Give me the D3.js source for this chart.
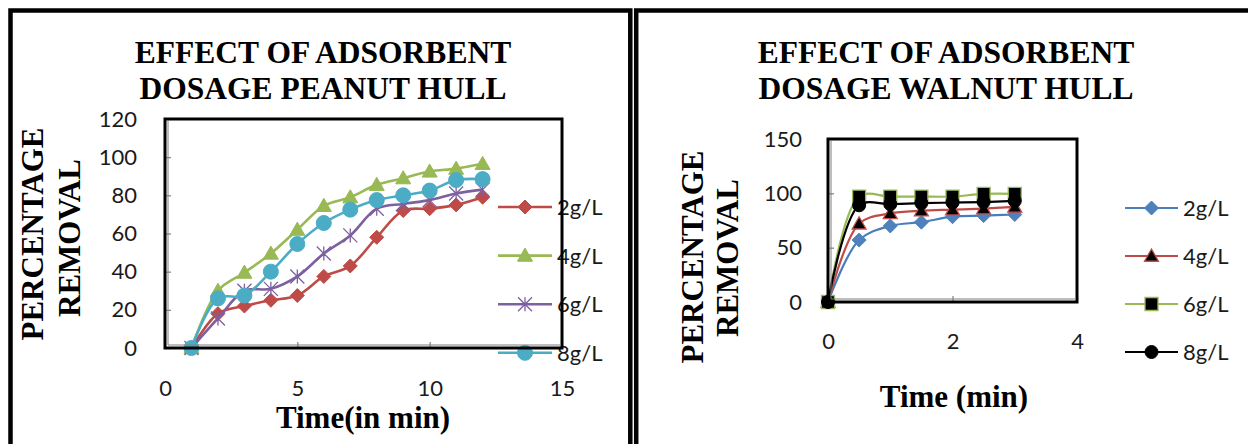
<!DOCTYPE html>
<html>
<head>
<meta charset="utf-8">
<script src="https://cdn.jsdelivr.net/npm/d3@7"></script>
<style>
  html, body { margin: 0; padding: 0; background: #fff; }
  svg { display: block; }
</style>
</head>
<body>
<svg id="chart" width="1248" height="444"></svg>
<script>
// ---- data: peanut hull panel ----
const peanutTimes = [1, 2, 3, 4, 5, 6, 7, 8, 9, 10, 11, 12];
const peanut2 = [0, 18, 22, 25, 27.5, 37.5, 43, 58, 72, 73, 75, 79];
const peanut4 = [0, 30, 39.5, 49.5, 62, 74.5, 79, 85.5, 89, 92.5, 94, 96.5];
const peanut6 = [0, 15.5, 30, 31, 37.5, 49.5, 59, 73, 75.5, 77.5, 81, 83];
const peanut8 = [0, 26, 27.5, 40, 54.5, 65.5, 72.5, 77.5, 80, 82.5, 88, 88.5];
const peanutXTicks = [0, 5, 10, 15];
const peanutYTicks = [0, 20, 40, 60, 80, 100, 120];

// ---- data: walnut hull panel ----
const walnutTimes = [0, 0.5, 1, 1.5, 2, 2.5, 3];
const walnut2 = [0, 57, 70, 73.5, 78.5, 79.5, 80.5];
const walnut4 = [0, 72, 81.5, 84, 85, 86, 87.5];
const walnut6 = [0, 97, 97, 97, 97, 99.5, 99.5];
const walnut8 = [0, 89, 90, 91, 91.5, 92, 93];
const walnutXTicks = [0, 2, 4];
const walnutYTicks = [0, 50, 100, 150];

const dosageLabels = ["2g/L", "4g/L", "6g/L", "8g/L"];

const svg = d3.select("#chart");
svg.append("rect").attr("width", 1248).attr("height", 444).attr("fill", "#fff");

const serif = "'Liberation Serif', 'Times New Roman', serif";
const sans = "Lato, 'Open Sans', sans-serif";

// outer panel frames
svg.append("path")
  .attr("d", "M10.5,470 V10.5 H630.3 V470")
  .attr("fill", "none").attr("stroke", "#000").attr("stroke-width", 4.5);
svg.append("path")
  .attr("d", "M636.2,470 V10.5 H1270")
  .attr("fill", "none").attr("stroke", "#000").attr("stroke-width", 4.5);

// marker shapes centred on (0,0)
function markerPath(kind, s) {
  const p = d3.path();
  if (kind === "diamond") {
    p.moveTo(0, -s); p.lineTo(s, 0); p.lineTo(0, s); p.lineTo(-s, 0); p.closePath();
  } else if (kind === "triangle") {
    p.moveTo(0, -s); p.lineTo(s, s * 0.75); p.lineTo(-s, s * 0.75); p.closePath();
  } else if (kind === "square") {
    p.rect(-s, -s, 2 * s, 2 * s);
  } else if (kind === "circle") {
    p.moveTo(s, 0); p.arc(0, 0, s, 0, Math.PI * 2);
  } else if (kind === "star") {
    p.moveTo(0, -s); p.lineTo(0, s);
    p.moveTo(-s, -s); p.lineTo(s, s);
    p.moveTo(-s, s); p.lineTo(s, -s);
  }
  return p.toString();
}

function drawChart(cfg) {
  const x = d3.scaleLinear().domain(cfg.xDomain).range([cfg.left, cfg.right]);
  const y = d3.scaleLinear().domain(cfg.yDomain).range([cfg.bottom, cfg.top]);
  const g = svg.append("g");
  const fmt = d3.format("d");

  // axes with inward ticks
  const ax = g.append("g").attr("transform", `translate(0,${cfg.bottom})`)
    .call(d3.axisBottom(x).tickValues(cfg.xTicks).tickFormat(fmt).tickSize(-6).tickPadding(cfg.xPad));
  const ay = g.append("g").attr("transform", `translate(${cfg.left},0)`)
    .call(d3.axisLeft(y).tickValues(cfg.yTicks).tickFormat(fmt).tickSize(-6).tickPadding(cfg.yPad));
  [ax, ay].forEach(a => {
    a.select(".domain").remove();
    a.selectAll(".tick line").attr("stroke", "#808080").attr("stroke-width", 1.2);
    a.selectAll(".tick text").attr("font-family", sans).attr("font-size", 22).attr("fill", "#1a1a1a");
  });

  // series
  const line = d3.line().x(d => x(d.t)).y(d => y(d.v)).curve(d3.curveCatmullRom.alpha(0.5));
  cfg.series.forEach(s => {
    const pts = cfg.times.map((t, i) => ({ t, v: s.values[i] }));
    g.append("path").datum(pts).attr("d", line)
      .attr("fill", "none").attr("stroke", s.color).attr("stroke-width", cfg.lineWidth)
      .attr("stroke-linejoin", "round");
    g.append("g").selectAll("path").data(pts).join("path")
      .attr("transform", d => `translate(${x(d.t)},${y(d.v)})`)
      .attr("d", markerPath(s.marker, s.size))
      .attr("fill", s.marker === "star" ? "none" : s.fill)
      .attr("stroke", s.stroke).attr("stroke-width", s.strokeWidth);
  });

  // legend
  const lg = g.append("g");
  cfg.series.forEach((s, i) => {
    const ly = cfg.legend.y0 + i * cfg.legend.step;
    lg.append("line").attr("x1", cfg.legend.x1).attr("x2", cfg.legend.x2)
      .attr("y1", ly).attr("y2", ly).attr("stroke", s.color).attr("stroke-width", cfg.lineWidth);
    lg.append("path").attr("transform", `translate(${(cfg.legend.x1 + cfg.legend.x2) / 2},${ly})`)
      .attr("d", markerPath(s.marker, s.size))
      .attr("fill", s.marker === "star" ? "none" : s.fill)
      .attr("stroke", s.stroke).attr("stroke-width", s.strokeWidth);
    lg.append("text").attr("x", cfg.legend.tx).attr("y", ly).attr("dy", "0.36em")
      .attr("font-family", sans).attr("font-size", 22).attr("fill", "#1a1a1a")
      .text(dosageLabels[i]);
  });

  // plot area border (double line on the axis sides)
  g.append("rect").attr("x", cfg.left).attr("y", cfg.top)
    .attr("width", cfg.right - cfg.left).attr("height", cfg.bottom - cfg.top)
    .attr("fill", "none").attr("stroke", "#000").attr("stroke-width", 3);
  g.append("path")
    .attr("d", `M${cfg.left + 3},${cfg.top + 2} V${cfg.bottom - 3} H${cfg.right - 2}`)
    .attr("fill", "none").attr("stroke", "#7f7f7f").attr("stroke-width", 1);

  // titles
  cfg.title.forEach((t, i) => {
    g.append("text").attr("x", cfg.titleX).attr("y", 63 + i * 36)
      .attr("text-anchor", "middle").attr("font-family", serif).attr("font-weight", "bold")
      .attr("font-size", 31.5).attr("fill", "#000").text(t);
  });
  cfg.yTitle.forEach(t => {
    g.append("text").attr("transform", `translate(${t.x},${t.y}) rotate(-90)`)
      .attr("text-anchor", "middle").attr("font-family", serif).attr("font-weight", "bold")
      .attr("font-size", 31).attr("fill", "#000").text(t.text);
  });
  g.append("text").attr("x", cfg.xTitle.x).attr("y", cfg.xTitle.y)
    .attr("text-anchor", "middle").attr("font-family", serif).attr("font-weight", "bold")
    .attr("font-size", 31).attr("fill", "#000").text(cfg.xTitle.text);
}

drawChart({
  left: 165, right: 562, top: 119, bottom: 348,
  xDomain: [0, 15], yDomain: [0, 120],
  xTicks: peanutXTicks, yTicks: peanutYTicks, xPad: 32.5, yPad: 28,
  times: peanutTimes, lineWidth: 2.6,
  series: [
    { values: peanut2, color: "#BE4B48", marker: "diamond", size: 7, fill: "#BE4B48", stroke: "#BE4B48", strokeWidth: 1 },
    { values: peanut4, color: "#98B954", marker: "triangle", size: 7.5, fill: "#98B954", stroke: "#98B954", strokeWidth: 1 },
    { values: peanut6, color: "#7D60A0", marker: "star", size: 7, fill: "none", stroke: "#7D60A0", strokeWidth: 1.3 },
    { values: peanut8, color: "#4BACC6", marker: "circle", size: 7.5, fill: "#4BACC6", stroke: "#4BACC6", strokeWidth: 1 }
  ],
  legend: { x1: 498, x2: 552, tx: 557, y0: 207, step: 48.6 },
  titleX: 323, title: ["EFFECT OF ADSORBENT", "DOSAGE PEANUT HULL"],
  yTitle: [{ text: "PERCENTAGE", x: 43, y: 234 }, { text: "REMOVAL", x: 79.5, y: 238 }],
  xTitle: { text: "Time(in min)", x: 363, y: 428 }
});

drawChart({
  left: 828, right: 1077, top: 139, bottom: 302,
  xDomain: [0, 4], yDomain: [0, 150],
  xTicks: walnutXTicks, yTicks: walnutYTicks, xPad: 31.5, yPad: 26,
  times: walnutTimes, lineWidth: 2.2,
  series: [
    { values: walnut2, color: "#4A7EBB", marker: "diamond", size: 7, fill: "#4F81BD", stroke: "#4F81BD", strokeWidth: 1 },
    { values: walnut4, color: "#BE4B48", marker: "triangle", size: 7, fill: "#000", stroke: "#C0504D", strokeWidth: 1.3 },
    { values: walnut6, color: "#98B954", marker: "square", size: 6.5, fill: "#000", stroke: "#9BBB59", strokeWidth: 1.3 },
    { values: walnut8, color: "#000", marker: "circle", size: 6.5, fill: "#000", stroke: "#000", strokeWidth: 1 }
  ],
  legend: { x1: 1125, x2: 1178, tx: 1183, y0: 208, step: 48 },
  titleX: 946, title: ["EFFECT OF ADSORBENT", "DOSAGE WALNUT HULL"],
  yTitle: [{ text: "PERCENTAGE", x: 703, y: 257 }, { text: "REMOVAL", x: 738, y: 258 }],
  xTitle: { text: "Time (min)", x: 954, y: 407 }
});
</script>
</body>
</html>
